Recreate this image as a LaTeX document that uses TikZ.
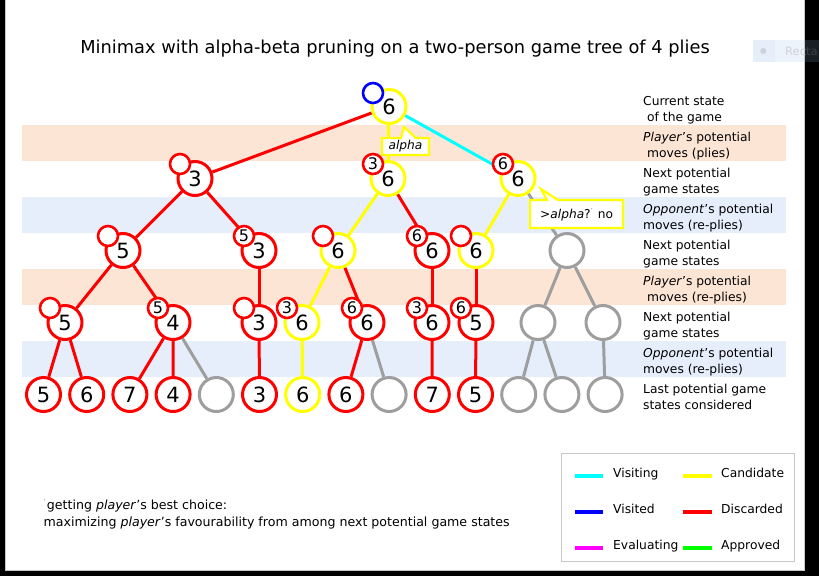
\documentclass[tikz,border=0pt]{standalone}
\usepackage{fontspec}
\setmainfont{DejaVu Sans}
\usetikzlibrary{calc}
\pgfdeclarelayer{bands}
\pgfdeclarelayer{links}
\pgfsetlayers{bands,links,main}
\definecolor{bandO}{RGB}{253,229,214}
\definecolor{bandB}{RGB}{230,238,252}
\definecolor{cY}{RGB}{255,255,0}
\definecolor{cR}{RGB}{255,0,0}
\definecolor{cC}{RGB}{0,255,255}
\definecolor{cB}{RGB}{0,0,255}
\definecolor{cG}{RGB}{158,158,158}
\definecolor{cM}{RGB}{255,0,255}
\definecolor{cL}{RGB}{0,255,0}
\definecolor{frameG}{RGB}{200,200,200}
\definecolor{ovLight}{RGB}{205,210,216}
\definecolor{ovDark}{RGB}{60,64,70}
\definecolor{tickG}{RGB}{150,150,150}
\begin{document}
\begin{tikzpicture}[x=1pt,y=-1pt,
  bignode/.style={circle, draw=#1, line width=3pt, fill=white, minimum size=34pt, inner sep=0pt, font=\fontsize{21}{21}\selectfont},
  smnode/.style={circle, draw=#1, line width=2.6pt, fill=white, minimum size=20pt, inner sep=0pt, font=\fontsize{16}{16}\selectfont},
  smnode/.default=cR,
  link/.style={draw=#1, line width=3pt},
  txt/.style={font=\fontsize{12.3}{16}\selectfont, inner sep=0pt, anchor=base west},
  notetxt/.style={font=\fontsize{12.6}{16}\selectfont, inner sep=0pt, anchor=base west},
  swatch/.style={draw=#1, line width=3.5pt},
  callout/.style={draw=cY, line width=2.2pt, fill=white}]
\useasboundingbox (0,0) rectangle (819,576);

% background and bands
\begin{pgfonlayer}{bands}
\fill[white] (0,0) rectangle (819,576);
\fill[bandO] (22,125) rectangle (786,161);
\fill[bandB] (22,197) rectangle (786,233);
\fill[bandO] (22,269) rectangle (786,305);
\fill[bandB] (22,341) rectangle (786,377);
\end{pgfonlayer}

% title
\node[font=\fontsize{17.8}{20}\selectfont, inner sep=0pt, anchor=base] (title) at (395,53.3) {Minimax with alpha-beta pruning on a two-person game tree of 4 plies};

% big nodes
\node[bignode=cY] (root) at (389,106.5) {6};
\node[bignode=cR] (A) at (195,178.5) {3};
\node[bignode=cY] (B) at (388,178.5) {6};
\node[bignode=cY] (C) at (518,178.5) {6};
\node[bignode=cR] (D) at (123,250.5) {5};
\node[bignode=cR] (E) at (259,250.5) {3};
\node[bignode=cY] (F) at (338,250.5) {6};
\node[bignode=cR] (G) at (432,250.5) {6};
\node[bignode=cY] (H) at (476,250.5) {6};
\node[bignode=cG] (I) at (567,250.5) {};
\node[bignode=cR] (J) at (65,322.5) {5};
\node[bignode=cR] (K) at (173,322.5) {4};
\node[bignode=cR] (L) at (259,322.5) {3};
\node[bignode=cY] (M) at (302,322.5) {6};
\node[bignode=cR] (N) at (367,322.5) {6};
\node[bignode=cR] (O) at (432,322.5) {6};
\node[bignode=cR] (P) at (476,322.5) {5};
\node[bignode=cG] (Q) at (538,322.5) {};
\node[bignode=cG] (R) at (603,322.5) {};
% leaves
\node[bignode=cR] (l1) at (43.5,394.5) {5};
\node[bignode=cR] (l2) at (86.7,394.5) {6};
\node[bignode=cR] (l3) at (129.9,394.5) {7};
\node[bignode=cR] (l4) at (173.1,394.5) {4};
\node[bignode=cG] (l5) at (216.3,394.5) {};
\node[bignode=cR] (l6) at (259.5,394.5) {3};
\node[bignode=cY] (l7) at (302.7,394.5) {6};
\node[bignode=cR] (l8) at (345.9,394.5) {6};
\node[bignode=cG] (l9) at (389.1,394.5) {};
\node[bignode=cR] (l10) at (432.3,394.5) {7};
\node[bignode=cR] (l11) at (475.5,394.5) {5};
\node[bignode=cG] (l12) at (518.7,394.5) {};
\node[bignode=cG] (l13) at (561.9,394.5) {};
\node[bignode=cG] (l14) at (605.1,394.5) {};

% small alpha markers
\node[smnode=cB] (sroot) at ($(root)+(-16,-13.5)$) {};
\node[smnode] (sA) at ($(A)+(-15,-14.5)$) {};
\node[smnode] (sB) at ($(B)+(-15,-14.5)$) {3};
\node[smnode] (sC) at ($(C)+(-15,-14.5)$) {6};
\node[smnode] (sD) at ($(D)+(-15,-14.5)$) {};
\node[smnode] (sE) at ($(E)+(-15,-14.5)$) {5};
\node[smnode] (sF) at ($(F)+(-15,-14.5)$) {};
\node[smnode] (sG) at ($(G)+(-15,-14.5)$) {6};
\node[smnode] (sH) at ($(H)+(-15,-14.5)$) {};
\node[smnode] (sJ) at ($(J)+(-15,-14.5)$) {};
\node[smnode] (sK) at ($(K)+(-15,-14.5)$) {5};
\node[smnode] (sL) at ($(L)+(-15,-14.5)$) {};
\node[smnode] (sM) at ($(M)+(-15,-14.5)$) {3};
\node[smnode] (sN) at ($(N)+(-15,-14.5)$) {6};
\node[smnode] (sO) at ($(O)+(-15,-14.5)$) {3};
\node[smnode] (sP) at ($(P)+(-15,-14.5)$) {6};

% links
\begin{pgfonlayer}{links}
\draw[link=cR] (root) -- (A);
\draw[link=cY] (root) -- (B);
\draw[link=cC] (root) -- (C);
\draw[link=cR] (A) -- (D);
\draw[link=cR] (A) -- (E);
\draw[link=cY] (B) -- (F);
\draw[link=cR] (B) -- (G);
\draw[link=cY] (C) -- (H);
\draw[link=cG] (C) -- (I);
\draw[link=cR] (D) -- (J);
\draw[link=cR] (D) -- (K);
\draw[link=cR] (E) -- (L);
\draw[link=cY] (F) -- (M);
\draw[link=cR] (F) -- (N);
\draw[link=cR] (G) -- (O);
\draw[link=cR] (H) -- (P);
\draw[link=cG] (I) -- (Q);
\draw[link=cG] (I) -- (R);
\draw[link=cR] (J) -- (l1);
\draw[link=cR] (J) -- (l2);
\draw[link=cR] (K) -- (l3);
\draw[link=cR] (K) -- (l4);
\draw[link=cG] (K) -- (l5);
\draw[link=cR] (L) -- (l6);
\draw[link=cY] (M) -- (l7);
\draw[link=cR] (N) -- (l8);
\draw[link=cG] (N) -- (l9);
\draw[link=cR] (O) -- (l10);
\draw[link=cR] (P) -- (l11);
\draw[link=cG] (Q) -- (l12);
\draw[link=cG] (Q) -- (l13);
\draw[link=cG] (R) -- (l14);
\end{pgfonlayer}

% callouts
\draw[callout] (382,138) -- (401,138) -- (404,127) -- (416,138) -- (429,138) -- (429,155) -- (382,155) -- cycle;
\node[font=\fontsize{12.2}{14}\selectfont, inner sep=0pt] (cb1) at (405.5,146.5) {\textit{alpha}};
\draw[callout] (530,200) -- (547,200) -- (541,189) -- (558,200) -- (623,200) -- (623,228) -- (530,228) -- cycle;
\node[font=\fontsize{12.2}{14}\selectfont, inner sep=0pt, anchor=base west] (cb2) at (540,218.5) {>\textit{alpha}?\raisebox{5pt}{\textcolor{tickG}{\fontsize{7}{7}\selectfont '}}\hspace{1pt} no};

% right labels
\node[txt] (r0a) at (643,105.5) {Current state};
\node[txt] (r0b) at (643,121.5) {\hspace{4pt}of the game};
\node[txt] (r1a) at (643,141.5) {\textit{Player}'s potential};
\node[txt] (r1b) at (643,157.5) {\hspace{4pt}moves (plies)};
\node[txt] (r2a) at (643,177.5) {Next potential};
\node[txt] (r2b) at (643,193.5) {game states};
\node[txt] (r3a) at (643,213.5) {\textit{Opponent}'s potential};
\node[txt] (r3b) at (643,229.5) {moves (re-plies)};
\node[txt] (r4a) at (643,249.5) {Next potential};
\node[txt] (r4b) at (643,265.5) {game states};
\node[txt] (r5a) at (643,285.5) {\textit{Player}'s potential};
\node[txt] (r5b) at (643,301.5) {\hspace{4pt}moves (re-plies)};
\node[txt] (r6a) at (643,321.5) {Next potential};
\node[txt] (r6b) at (643,337.5) {game states};
\node[txt] (r7a) at (643,357.5) {\textit{Opponent}'s potential};
\node[txt] (r7b) at (643,373.5) {moves (re-plies)};
\node[txt] (r8a) at (643,393.5) {Last potential game};
\node[txt] (r8b) at (643,409.5) {states considered};

% legend
\draw[frameG, line width=1pt] (561.7,453) rectangle (794,561.7);
\draw[swatch=cC] (575,476) -- (603,476);
\draw[swatch=cB] (575,512) -- (603,512);
\draw[swatch=cM] (575,548) -- (603,548);
\draw[swatch=cY] (683,476) -- (711.5,476);
\draw[swatch=cR] (683,512) -- (711.5,512);
\draw[swatch=cL] (683,548) -- (711.5,548);
\node[txt] (lg1) at (613,477) {Visiting};
\node[txt] (lg2) at (613,513) {Visited};
\node[txt] (lg3) at (613,549.5) {Evaluating};
\node[txt] (lg4) at (721,477) {Candidate};
\node[txt] (lg5) at (721,513) {Discarded};
\node[txt] (lg6) at (721,549.5) {Approved};

% bottom note
\node[notetxt] (note1) at (43.5,509.3) {\raisebox{5pt}{\textcolor{tickG}{\fontsize{7}{7}\selectfont '}}\hspace{1pt}getting \textit{player}'s best choice:};
\node[notetxt] (note2) at (43.5,526.7) {maximizing \textit{player}'s favourability from among next potential game states};

% faint screenshot overlay (top right)
\fill[fill={rgb,255:red,236;green,243;blue,251}] (753,40) rectangle (805,62);
\fill[fill={rgb,255:red,229;green,238;blue,249}] (753,40) rectangle (775,62);
\fill[ovLight] (763.3,51) circle (3);

% frame
\fill[black] (0,0) rectangle (5,576);
\fill[black] (805,0) rectangle (819,576);
\fill[black] (0,570.5) rectangle (819,576);
\fill[fill={rgb,255:red,26;green,31;blue,37}] (805,40) rectangle (819,62);
\node[font=\fontsize{11.5}{13}\selectfont, inner sep=0pt, anchor=base west, text=ovLight] (rect1) at (785,55.5) {Rec\textcolor{ovDark}{ta}};
\draw[frameG, line width=0.8pt] (5.4,-2) -- (5.4,570.1) -- (804.6,570.1) -- (804.6,-2);
\end{tikzpicture}
\end{document}
